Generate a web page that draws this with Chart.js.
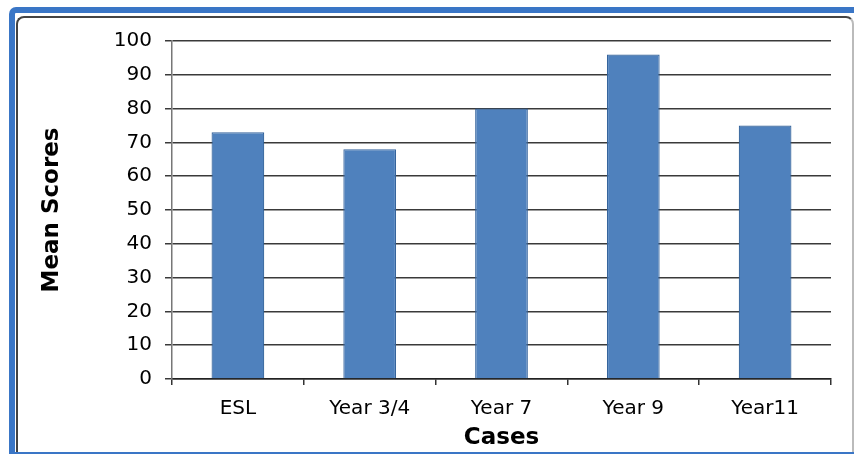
<!DOCTYPE html>
<html>
<head>
<meta charset="utf-8">
<script src="https://cdn.jsdelivr.net/npm/chart.js@4"></script>
<style>
  html, body { margin: 0; padding: 0; background: #fff; }
  body { width: 854px; height: 454px; position: relative; overflow: hidden; }
  #frame {
    position: absolute; left: 9px; top: 7px; width: 860px; height: 460px;
    border-left: 6px solid #3a76c6; border-top: 6px solid #3a76c6;
    border-top-left-radius: 7px;
  }
  #panel {
    position: absolute; left: 16px; top: 16px; width: 834px; height: 450px;
    border-left: 2px solid #444; border-top: 2px solid #444; border-right: 2px solid #bbb;
    border-radius: 8px; background: #fff;
  }
  #baseline {
    position: absolute; left: 9px; top: 452px; width: 845px; height: 2px; background: #3a76c6;
  }
  #wrap { position: absolute; left: 0; top: 0; width: 854px; height: 454px; }
</style>
</head>
<body>
<div id="frame"></div>
<div id="panel"></div>
<div id="baseline"></div>
<div id="wrap"><canvas id="scoresChart"></canvas></div>
<script>
const cases = ["ESL", "Year 3/4", "Year 7", "Year 9", "Year11"]
const meanScores = [73, 68, 80, 96, 75]
const yTicks = [0, 10, 20, 30, 40, 50, 60, 70, 80, 90, 100]

const BAR_BLUE = "#4f81bd"
const BAR_EDGE = "#35649c"
const GRID = "#3a3a3a"

const scoresData = {
  labels: cases,
  datasets: [
    {
      label: "Mean Scores",
      data: meanScores,
      backgroundColor: BAR_BLUE,
      borderColor: BAR_EDGE,
      borderWidth: 1.2,
      barPercentage: 0.4,
      categoryPercentage: 1,
    },
  ],
}

const scoresConfig = {
  type: "bar",
  data: scoresData,
  options: {
    responsive: false,
    animation: false,
    layout: {
      padding: { left: 0, top: 41, right: 23, bottom: 0 },
    },
    plugins: {
      legend: { display: false },
      tooltip: { enabled: false },
    },
    scales: {
      x: {
        grid: {
          offset: true,
          drawOnChartArea: false,
          tickLength: 6,
          color: "#333",
          lineWidth: 1.5,
        },
        border: { color: "#222", width: 1.5 },
        ticks: {
          color: "#000",
          padding: 12,
          font: { family: "DejaVu Sans", size: 20 },
        },
        title: {
          display: true,
          text: "Cases",
          color: "#000",
          padding: { top: 0, bottom: 2 },
          font: { family: "DejaVu Sans", size: 23, weight: "bold" },
        },
        afterFit: (scale) => {
          scale.height = 75
        },
      },
      y: {
        min: 0,
        max: 100,
        afterBuildTicks: (scale) => {
          scale.ticks = yTicks.map((v) => ({ value: v }))
        },
        grid: {
          color: GRID,
          lineWidth: 1.5,
          tickLength: 7,
        },
        border: { color: "#777", width: 1.5 },
        ticks: {
          color: "#000",
          padding: 13,
          font: { family: "DejaVu Sans", size: 20 },
        },
        title: {
          display: true,
          text: "Mean Scores",
          color: "#000",
          padding: { top: 38, bottom: 0 },
          font: { family: "DejaVu Sans", size: 23, weight: "bold" },
        },
        afterFit: (scale) => {
          scale.width = 172
        },
      },
    },
  },
}

const canvas = document.getElementById("scoresChart")
canvas.width = 854
canvas.height = 454
const scoresChart = new Chart(canvas, scoresConfig)
</script>
</body>
</html>
